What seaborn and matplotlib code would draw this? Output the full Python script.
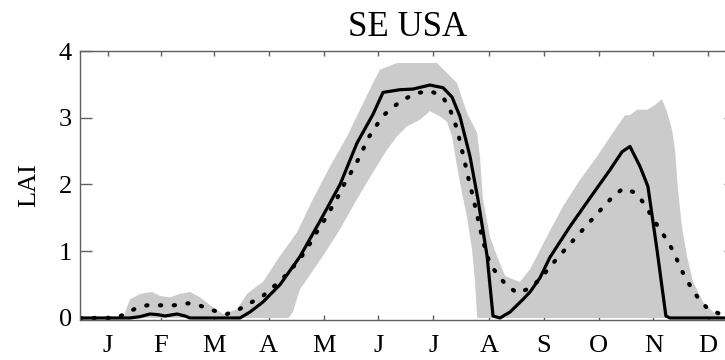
import numpy as np
import pandas as pd
import matplotlib
matplotlib.use("Agg")
import matplotlib.pyplot as plt
import seaborn as sns

# ---- data (x in day of year, y = LAI) ----
months = ["J", "F", "M", "A", "M", "J", "J", "A", "S", "O", "N", "D"]
month_mid = [15.5, 45, 74.5, 105, 135.5, 166, 196.5, 227.5, 258, 288.5, 319, 349.5]
yticks = [0, 1, 2, 3, 4]
title = "SE USA"
ylabel = "LAI"

solid_day = [0, 27.8, 33.4, 38.9, 43.4, 47.3, 54.0, 58.4, 61.2, 89.0, 94.6, 101.8,
             111.3, 122.4, 133.5, 144.7, 154.1, 163.0, 168.6, 178.0, 185.3, 194.7,
             202.0, 207.0, 211.4, 217.0, 221.4, 226.5, 229.8, 233.7, 239.3, 246.5,
             250.4, 255.9, 261.5, 272.6, 283.8, 294.9, 301.6, 306.0, 311.6, 316.0,
             321.0, 326.0, 328.3, 365.0]
solid_lai = [0.00, 0.00, 0.02, 0.06, 0.05, 0.03, 0.06, 0.03, 0.00, 0.00, 0.09, 0.24,
             0.50, 0.92, 1.45, 2.00, 2.62, 3.05, 3.38, 3.42, 3.43, 3.49,
             3.45, 3.31, 3.02, 2.42, 1.78, 0.93, 0.03, 0.00, 0.09, 0.28,
             0.39, 0.60, 0.91, 1.37, 1.80, 2.22, 2.49, 2.57, 2.27, 1.97,
             1.03, 0.03, 0.00, 0.00]

dot_day = [0, 19.5, 23.4, 30.0, 37.3, 45.1, 52.3, 60.1, 67.3, 74.6, 81.8, 88.5, 95.7,
           101.8, 112.4, 118.5, 123.5, 127.4, 131.3, 135.2, 139.1, 143.0, 146.3,
           149.7, 153.6, 156.9, 160.2, 164.1, 168.6, 174.2, 179.7, 187.5, 194.7,
           201.4, 205.3, 208.1, 210.3, 212.0, 213.7, 215.3, 217.0, 218.7, 223.7,
           225.9, 228.1, 232.6, 237.6, 243.7, 250.4, 255.9, 261.0, 266.0, 271.0,
           276.0, 281.0, 286.0, 291.0, 296.6, 302.1, 308.8, 313.8, 317.7, 321.6,
           326.0, 329.9, 332.7, 336.1, 340.0, 343.9, 348.9, 356.1, 365.0]
dot_lai = [0.00, 0.00, 0.04, 0.13, 0.19, 0.19, 0.19, 0.22, 0.18, 0.11, 0.06, 0.13, 0.24,
           0.33, 0.58, 0.76, 0.93, 1.09, 1.27, 1.43, 1.61, 1.79, 1.97,
           2.13, 2.31, 2.49, 2.69, 2.85, 3.03, 3.16, 3.27, 3.37, 3.40,
           3.33, 3.16, 2.97, 2.78, 2.57, 2.39, 2.18, 2.00, 1.81, 1.21,
           1.00, 0.81, 0.64, 0.48, 0.37, 0.45, 0.58, 0.75, 0.91, 1.06,
           1.21, 1.36, 1.51, 1.66, 1.82, 1.94, 1.88, 1.72, 1.54, 1.37,
           1.19, 1.01, 0.84, 0.64, 0.46, 0.30, 0.15, 0.06, 0.02]

upper_day = [0, 23.9, 27.8, 33.4, 40.1, 44.5, 50.1, 55.6, 61.2, 66.8, 74.0, 79.6, 87.4,
             92.9, 98.5, 101.8, 111.3, 120.7, 129.6, 139.1, 148.6, 155.8, 163.0,
             166.9, 176.4, 198.6, 204.2, 209.8, 215.3, 220.9, 222.6, 224.2, 228.1,
             232.0, 236.5, 240.9, 244.8, 250.4, 259.8, 268.7, 278.2, 287.7, 296.6,
             303.3, 306.0, 309.9, 315.5, 319.9, 323.8, 326.6, 329.4, 331.1, 332.7,
             334.9, 337.7, 341.1, 346.7, 352.2, 357.8, 365.0]
upper_lai = [0.00, 0.00, 0.28, 0.36, 0.39, 0.33, 0.31, 0.36, 0.39, 0.31, 0.16, 0.06, 0.13,
             0.36, 0.48, 0.54, 0.93, 1.28, 1.78, 2.27, 2.72, 3.12, 3.52,
             3.72, 3.82, 3.82, 3.67, 3.52, 3.07, 2.78, 2.40, 1.78, 1.22,
             0.93, 0.63, 0.58, 0.54, 0.73, 1.22, 1.67, 2.07, 2.42, 2.78,
             3.04, 3.04, 3.12, 3.12, 3.19, 3.28, 3.09, 2.82, 2.52, 1.93,
             1.37, 0.93, 0.54, 0.24, 0.09, 0.01, 0.00]

lower_day = [0, 116.0, 118.5, 122.4, 126.3, 135.2, 144.7, 154.1, 163.0, 170.8, 176.4,
             181.9, 189.2, 194.7, 200.3, 204.2, 207.0, 209.8, 212.5, 215.3, 218.1,
             219.8, 220.9, 221.4, 365.0]
lower_lai = [0.00, 0.00, 0.09, 0.43, 0.58, 0.93, 1.33, 1.78, 2.18, 2.52, 2.72,
             2.87, 2.97, 3.10, 3.02, 2.94, 2.72, 2.27, 1.88, 1.52, 1.03,
             0.54, 0.03, 0.00, 0.00]

# ---- style ----
sns.set_style("ticks")
plt.rcParams["font.family"] = ["Liberation Serif", "DejaVu Serif"]
plt.rcParams["text.color"] = "black"
plt.rcParams["axes.labelcolor"] = "black"
plt.rcParams["xtick.labelcolor"] = "black"
plt.rcParams["ytick.labelcolor"] = "black"

fig = plt.figure(figsize=(7.25, 3.6), dpi=100)
ax = fig.add_axes([80 / 725, 40 / 360, 656 / 725, 269 / 360])

# spread band
band_x = np.r_[upper_day, lower_day[::-1]]
band_y = np.r_[upper_lai, lower_lai[::-1]]
ax.fill(band_x, band_y, color="#cbcbcb", lw=0, zorder=1)

df_solid = pd.DataFrame({"day": solid_day, "lai": solid_lai})
df_dot = pd.DataFrame({"day": dot_day, "lai": dot_lai})
sns.lineplot(data=df_solid, x="day", y="lai", ax=ax, color="black", lw=2.3,
             sort=False, estimator=None, zorder=3)
sns.lineplot(data=df_dot, x="day", y="lai", ax=ax, color="black", lw=3.0,
             linestyle=(0, (0.3, 3.0)), dash_capstyle="round",
             sort=False, estimator=None, zorder=4)

ax.set_xlim(0, 365)
ax.set_ylim(-0.03, 4.0)
ax.set_xticks(month_mid)
ax.set_xticklabels(months)
ax.set_yticks(yticks)
ax.set_yticklabels([str(v) for v in yticks])
ax.set_xlabel("")
ax.set_ylabel(ylabel, fontsize=19, labelpad=13, color="black")
ax.set_title(title, fontsize=25, pad=11, color="black")

for s in ax.spines.values():
    s.set_visible(True)
    s.set_color("#606060")
    s.set_linewidth(1.0)
    s.set_zorder(5)

ax.tick_params(axis="y", which="both", direction="in", length=8.5, width=1.0,
               color="#606060", left=True, right=True, labelsize=19, pad=6,
               labelcolor="black")
ax.tick_params(axis="x", which="both", direction="in", length=3.5, width=1.0,
               color="#606060", top=True, bottom=True, labelsize=19, pad=11,
               labelcolor="black")

fig.savefig("out.png", dpi=100)
